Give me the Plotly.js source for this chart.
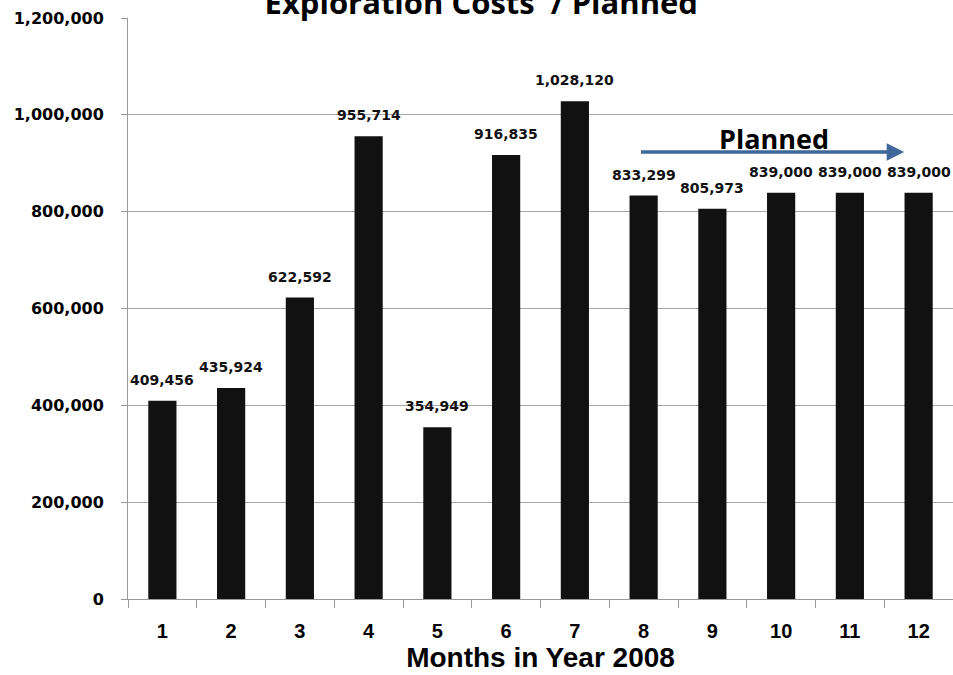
<!DOCTYPE html>
<html>
<head>
<meta charset="utf-8">
<script src="https://cdn.plot.ly/plotly-3.0.1.min.js"></script>
<style>html,body{margin:0;padding:0;background:#fff;}#chart{width:953px;height:675px;}</style>
</head>
<body>
<div id="chart"></div>
<script>
// Data
const months = ["1","2","3","4","5","6","7","8","9","10","11","12"];
const costs = [409456, 435924, 622592, 955714, 354949, 916835, 1028120, 833299, 805973, 839000, 839000, 839000];
const yTickVals = [0, 200000, 400000, 600000, 800000, 1000000, 1200000];
const titleText = "Exploration Costs  / Planned";
const xTitleText = "Months in Year 2008";
const plannedLabel = "Planned";

const fmt = v => v.toLocaleString("en-US");

const labelAnnotations = months.map((m, i) => ({
  x: i, y: costs[i], xref: "x", yref: "y",
  text: fmt(costs[i]), showarrow: false,
  yanchor: "middle", yshift: 21,
  font: {family: "DejaVu Sans", size: 14, color: "#111", weight: "bold"}
}));

const annotations = labelAnnotations.concat([
  {x: 10.79, y: 923000, ax: 6.94, ay: 923000, xref: "x", yref: "y", axref: "x", ayref: "y",
   text: "", showarrow: true, arrowhead: 2, arrowsize: 1, arrowwidth: 3.5, arrowcolor: "#3F6899"},
  {x: 8.9, y: 952000, xref: "x", yref: "y", text: "<b>" + plannedLabel + "</b>", showarrow: false,
   yanchor: "middle", font: {family: "Open Sans", size: 27, color: "#000"}}
]);

const trace = {
  type: "bar", x: months, y: costs,
  marker: {color: "#111111"}, width: 0.41, hoverinfo: "skip"
};

const layout = {
  width: 953, height: 675,
  margin: {l: 128, r: 0, t: 18, b: 76},
  paper_bgcolor: "#fff", plot_bgcolor: "#fff",
  showlegend: false,
  title: {text: "<b>" + titleText + "</b>", xref: "container", yref: "container",
          x: 0.505, xanchor: "center", y: 0.995, yanchor: "middle",
          font: {family: "Open Sans", size: 31, color: "#000"}},
  xaxis: {type: "category", range: [-0.5, 11.5], tickson: "boundaries", ticks: "outside", ticklen: 8, tickcolor: "#999",
          showline: true, linecolor: "#999", linewidth: 1, showgrid: false,
          ticklabelstandoff: 14,
          tickfont: {family: "Liberation Sans Narrow, Arial Narrow, sans-serif", size: 20, color: "#000", weight: "bold"},
          title: {text: "<b>" + xTitleText + "</b>", standoff: 4,
                  font: {family: "Liberation Sans Narrow, Arial Narrow, sans-serif", size: 28, color: "#000"}}},
  yaxis: {range: [0, 1200000], tickvals: yTickVals, tickformat: ",d",
          ticks: "outside", ticklen: 6, tickcolor: "#999", ticklabelstandoff: 14,
          showline: true, linecolor: "#999", linewidth: 1,
          showgrid: true, gridcolor: "#a6a6a6", gridwidth: 1, zeroline: false,
          tickfont: {family: "DejaVu Sans", size: 16, color: "#000", weight: "bold"}},
  annotations: annotations
};

Plotly.newPlot("chart", [trace], layout, {displayModeBar: false, staticPlot: true});
</script>
</body>
</html>
